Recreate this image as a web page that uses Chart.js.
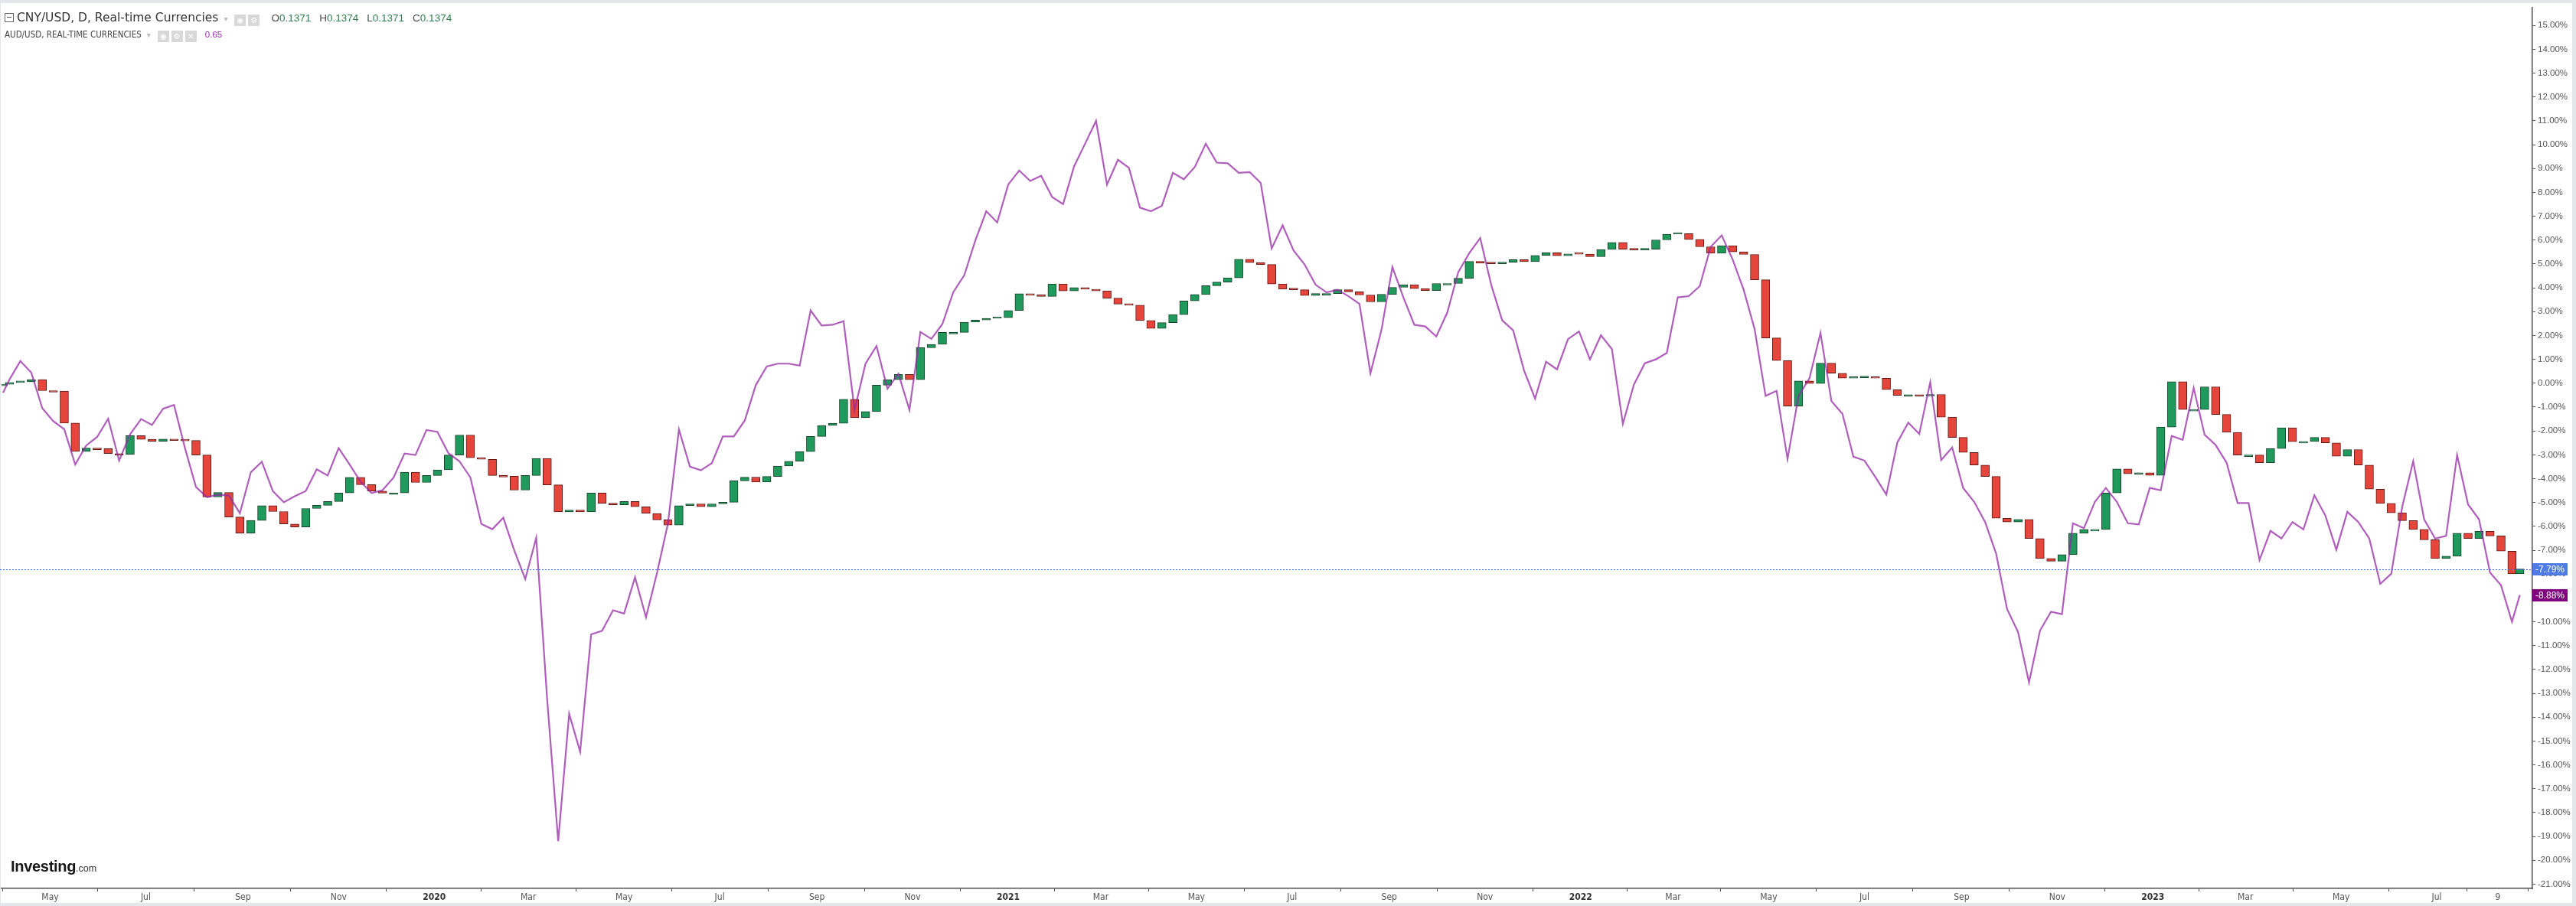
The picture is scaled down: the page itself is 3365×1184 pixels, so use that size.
<!DOCTYPE html>
<html>
<head>
<meta charset="utf-8">
<title>CNY/USD vs AUD/USD</title>
<script src="https://cdn.jsdelivr.net/npm/chart.js@4.4.0/dist/chart.umd.min.js"></script>
<style>
  html, body { margin: 0; padding: 0; background: #e4e6ea; }
  #frame { position: absolute; left: 1px; top: 4px; width: 3359px; height: 1176px; background: #fff; }
  #wrap { position: absolute; left: 0; top: 0; width: 3365px; height: 1184px; }
  .hdr { position: absolute; white-space: nowrap; z-index: 5; }
  #line1 { left: 6px; top: 13px; height: 20px; line-height: 20px; }
  #line2 { left: 6px; top: 37px; height: 14px; line-height: 14px; }
  .collapse { display: inline-block; width: 10px; height: 10px; border: 1px solid #666; position: relative; vertical-align: -1px; margin-right: 4px; }
  .collapse:after { content: ''; position: absolute; left: 2px; right: 2px; top: 4px; height: 1px; background: #555; }
  .title { font: 15.5px 'DejaVu Sans', sans-serif; color: #333; }
  .caret { font: 10px 'DejaVu Sans', sans-serif; color: #bbb; margin: 0 9px 0 7px; }
  .ico { display: inline-block; width: 15px; height: 15px; background: #d8d8d8; color: #fff; font: 10px/15px 'DejaVu Sans', sans-serif; text-align: center; margin-right: 3px; vertical-align: -2px; }
  .ohlc { font: 13.5px 'Liberation Sans', Arial, sans-serif; color: #4a4a4a; margin-left: 12px; }
  .ohlc b { font-weight: normal; color: #2e7d4f; margin-right: 11px; }
  .sub { font: 11.5px 'Liberation Sans Narrow', 'DejaVu Sans Condensed', 'Liberation Sans', sans-serif; color: #444; }
  .subval { font: 11.5px 'Liberation Sans', Arial, sans-serif; color: #9c27b0; margin-left: 8px; }
  #logo { position: absolute; left: 14px; top: 1121px; z-index: 5; white-space: nowrap; }
  #logo .brand { font: bold 20px 'Liberation Sans', Arial, sans-serif; color: #161616; letter-spacing: -0.3px; }
  #logo .dom { font: 12.5px 'Liberation Sans', Arial, sans-serif; color: #333; }
</style>
</head>
<body>
<div id="frame"></div>
<div id="wrap"><canvas id="chart" width="3365" height="1184"></canvas></div>
<div class="hdr" id="line1"></div>
<div class="hdr" id="line2"></div>
<div id="logo"><span class="brand">Investing</span><span class="dom">.com</span></div>

<script>
// weekly closes, % change from first bar
const weekDates = [
  '2019-04-01','2019-04-05','2019-04-12','2019-04-19','2019-04-26','2019-05-03','2019-05-10','2019-05-17','2019-05-24','2019-05-31',
  '2019-06-07','2019-06-14','2019-06-21','2019-06-28','2019-07-05','2019-07-12','2019-07-19','2019-07-26','2019-08-02','2019-08-09',
  '2019-08-16','2019-08-23','2019-08-30','2019-09-06','2019-09-13','2019-09-20','2019-09-27','2019-10-04','2019-10-11','2019-10-18',
  '2019-10-25','2019-11-01','2019-11-08','2019-11-15','2019-11-22','2019-11-29','2019-12-06','2019-12-13','2019-12-20','2019-12-27',
  '2020-01-03','2020-01-10','2020-01-17','2020-01-24','2020-01-31','2020-02-07','2020-02-14','2020-02-21','2020-02-28','2020-03-06',
  '2020-03-13','2020-03-20','2020-03-27','2020-04-03','2020-04-10','2020-04-17','2020-04-24','2020-05-01','2020-05-08','2020-05-15',
  '2020-05-22','2020-05-29','2020-06-05','2020-06-12','2020-06-19','2020-06-26','2020-07-03','2020-07-10','2020-07-17','2020-07-24',
  '2020-07-31','2020-08-07','2020-08-14','2020-08-21','2020-08-28','2020-09-04','2020-09-11','2020-09-18','2020-09-25','2020-10-02',
  '2020-10-09','2020-10-16','2020-10-23','2020-10-30','2020-11-06','2020-11-13','2020-11-20','2020-11-27','2020-12-04','2020-12-11',
  '2020-12-18','2020-12-25','2021-01-01','2021-01-08','2021-01-15','2021-01-22','2021-01-29','2021-02-05','2021-02-12','2021-02-19',
  '2021-02-26','2021-03-05','2021-03-12','2021-03-19','2021-03-26','2021-04-02','2021-04-09','2021-04-16','2021-04-23','2021-04-30',
  '2021-05-07','2021-05-14','2021-05-21','2021-05-28','2021-06-04','2021-06-11','2021-06-18','2021-06-25','2021-07-02','2021-07-09',
  '2021-07-16','2021-07-23','2021-07-30','2021-08-06','2021-08-13','2021-08-20','2021-08-27','2021-09-03','2021-09-10','2021-09-17',
  '2021-09-24','2021-10-01','2021-10-08','2021-10-15','2021-10-22','2021-10-29','2021-11-05','2021-11-12','2021-11-19','2021-11-26',
  '2021-12-03','2021-12-10','2021-12-17','2021-12-24','2021-12-31','2022-01-07','2022-01-14','2022-01-21','2022-01-28','2022-02-04',
  '2022-02-11','2022-02-18','2022-02-25','2022-03-04','2022-03-11','2022-03-18','2022-03-25','2022-04-01','2022-04-08','2022-04-15',
  '2022-04-22','2022-04-29','2022-05-06','2022-05-13','2022-05-20','2022-05-27','2022-06-03','2022-06-10','2022-06-17','2022-06-24',
  '2022-07-01','2022-07-08','2022-07-15','2022-07-22','2022-07-29','2022-08-05','2022-08-12','2022-08-19','2022-08-26','2022-09-02',
  '2022-09-09','2022-09-16','2022-09-23','2022-09-30','2022-10-07','2022-10-14','2022-10-21','2022-10-28','2022-11-04','2022-11-11',
  '2022-11-18','2022-11-25','2022-12-02','2022-12-09','2022-12-16','2022-12-23','2022-12-30','2023-01-06','2023-01-13','2023-01-20',
  '2023-01-27','2023-02-03','2023-02-10','2023-02-17','2023-02-24','2023-03-03','2023-03-10','2023-03-17','2023-03-24','2023-03-31',
  '2023-04-07','2023-04-14','2023-04-21','2023-04-28','2023-05-05','2023-05-12','2023-05-19','2023-05-26','2023-06-02','2023-06-09',
  '2023-06-16','2023-06-23','2023-06-30','2023-07-07','2023-07-14','2023-07-21','2023-07-28','2023-08-04','2023-08-11','2023-08-18',
  '2023-08-23'
];

const cnyClose = [
  -0.04, 0.03, 0.06, 0.15, -0.31, -0.33, -1.67, -2.86, -2.72, -2.74,
  -2.95, -2.98, -2.20, -2.35, -2.43, -2.34, -2.35, -2.40, -3.01, -4.77,
  -4.58, -5.61, -6.28, -5.75, -5.13, -5.38, -5.90, -6.03, -5.25, -5.12,
  -4.96, -4.60, -3.95, -4.25, -4.52, -4.61, -4.60, -3.73, -4.16, -3.87,
  -3.63, -3.01, -2.17, -3.12, -3.19, -3.87, -3.90, -4.48, -3.87, -3.15,
  -4.26, -5.39, -5.32, -5.39, -4.60, -5.03, -5.10, -4.96, -5.18, -5.46,
  -5.73, -5.95, -5.13, -5.06, -5.18, -5.06, -4.99, -4.09, -3.94, -4.14,
  -3.91, -3.47, -3.27, -2.87, -2.23, -1.77, -1.68, -0.67, -1.45, -1.19,
  -0.08, 0.15, 0.37, 0.15, 1.49, 1.63, 2.13, 2.13, 2.56, 2.65,
  2.72, 2.75, 3.05, 3.75, 3.69, 3.64, 4.16, 3.87, 4.01, 3.94,
  3.87, 3.57, 3.32, 3.27, 2.63, 2.30, 2.54, 2.88, 3.45, 3.72,
  4.09, 4.24, 4.42, 5.20, 5.06, 4.98, 4.16, 3.94, 3.92, 3.68,
  3.76, 3.76, 3.92, 3.83, 3.70, 3.41, 3.73, 4.02, 4.13, 3.97,
  3.89, 4.18, 4.18, 4.40, 5.11, 5.03, 5.01, 5.07, 5.18, 5.10,
  5.36, 5.47, 5.35, 5.42, 5.41, 5.31, 5.61, 5.90, 5.61, 5.59,
  5.62, 6.01, 6.25, 6.27, 6.03, 5.72, 5.45, 5.77, 5.51, 5.40,
  4.34, 1.90, 0.95, -0.96, 0.10, -0.01, 0.84, 0.42, 0.21, 0.23,
  0.26, 0.21, -0.27, -0.51, -0.48, -0.53, -0.47, -1.42, -2.27, -2.90,
  -3.43, -3.91, -5.66, -5.82, -5.71, -6.51, -7.35, -7.46, -7.19, -6.29,
  -6.13, -6.13, -4.60, -3.59, -3.80, -3.75, -3.86, -1.84, 0.06, -1.10,
  -1.10, -0.15, -1.31, -2.06, -3.01, -3.01, -3.33, -2.74, -1.87, -2.45,
  -2.44, -2.27, -2.50, -3.06, -2.78, -3.43, -4.44, -5.04, -5.43, -5.76,
  -6.13, -6.56, -7.35, -7.25, -6.29, -6.51, -6.21, -6.40, -7.04, -7.99,
  -7.79
];

const audChange = [
  -0.40, 0.15, 0.93, 0.44, -1.05, -1.59, -1.93, -3.41, -2.61, -2.25,
  -1.49, -3.24, -2.14, -1.50, -1.75, -1.07, -0.91, -2.72, -4.35, -4.78,
  -4.67, -4.71, -5.45, -3.73, -3.29, -4.52, -4.99, -4.74, -4.52, -3.61,
  -3.87, -2.72, -3.41, -4.13, -4.60, -4.48, -3.96, -2.95, -3.01, -1.96,
  -2.04, -2.93, -3.27, -3.95, -5.90, -6.12, -5.64, -7.01, -8.21, -6.48,
  -13.28, -19.20, -13.86, -15.45, -10.53, -10.38, -9.52, -9.66, -8.14, -9.81,
  -7.96, -5.88, -1.94, -3.50, -3.65, -3.35, -2.23, -2.23, -1.56, -0.08,
  0.70, 0.82, 0.82, 0.74, 3.05, 2.42, 2.45, 2.60, -1.12, 0.82,
  1.56, -0.23, 0.40, -1.12, 2.15, 1.86, 2.48, 3.82, 4.53, 5.98,
  7.21, 6.74, 8.33, 8.92, 8.48, 8.70, 7.81, 7.51, 9.09, 10.04,
  11.00, 8.33, 9.37, 9.03, 7.36, 7.21, 7.44, 8.82, 8.55, 9.07,
  10.04, 9.25, 9.22, 8.82, 8.85, 8.40, 5.65, 6.62, 5.56, 4.98,
  4.13, 3.81, 3.92, 3.65, 3.33, 0.42, 2.22, 4.87, 3.60, 2.45,
  2.38, 1.96, 2.96, 4.66, 5.45, 6.09, 4.13, 2.64, 2.22, 0.53,
  -0.64, 0.90, 0.58, 1.85, 2.17, 1.00, 2.01, 1.43, -1.70, -0.06,
  0.84, 1.00, 1.27, 3.60, 3.65, 4.07, 5.72, 6.20, 5.19, 3.92,
  2.27, -0.53, -0.32, -3.18, -0.53, 0.21, 2.11, -0.75, -1.28, -3.08,
  -3.24, -3.93, -4.67, -2.49, -1.65, -2.12, 0.04, -3.22, -2.69, -4.39,
  -4.97, -5.82, -7.14, -9.47, -10.43, -12.54, -10.37, -9.58, -9.68, -5.87,
  -6.08, -4.97, -4.39, -4.97, -5.87, -5.92, -4.39, -4.49, -2.21, -2.37,
  -0.20, -2.16, -2.59, -3.33, -5.02, -5.02, -7.41, -6.19, -6.51, -5.82,
  -6.13, -4.70, -5.55, -6.98, -5.39, -5.82, -6.51, -8.41, -7.99, -5.18,
  -3.27, -5.71, -6.51, -6.40, -3.01, -5.08, -5.71, -7.94, -8.47, -10.00,
  -8.88
];

const tickDates = [
  '2019-05-01','2019-07-01','2019-09-01','2019-11-01','2020-01-01','2020-03-01','2020-05-01','2020-07-01','2020-09-01',
  '2020-11-01','2021-01-01','2021-03-01','2021-05-01','2021-07-01','2021-09-01','2021-11-01','2022-01-01','2022-03-01',
  '2022-05-01','2022-07-01','2022-09-01','2022-11-01','2023-01-01','2023-03-01','2023-05-01','2023-07-01','2023-08-09'
];
const tickLabels = [
  'May','Jul','Sep','Nov','2020','Mar','May','Jul','Sep',
  'Nov','2021','Mar','May','Jul','Sep','Nov','2022','Mar',
  'May','Jul','Sep','Nov','2023','Mar','May','Jul','9'
];

const ohlc = ['0.1371', '0.1374', '0.1371', '0.1374'];
const audLast = '0.65';

// header text
document.getElementById('line1').innerHTML =
  '<span class="collapse"></span><span class="title">CNY/USD, D, Real-time Currencies</span>' +
  '<span class="caret">\u25BE</span><span class="ico">\u25C9</span><span class="ico">\u2699</span>' +
  '<span class="ohlc">O<b>' + ohlc[0] + '</b>H<b>' + ohlc[1] + '</b>L<b>' + ohlc[2] + '</b>C<b>' + ohlc[3] + '</b></span>';
document.getElementById('line2').innerHTML =
  '<span class="sub">AUD/USD, REAL-TIME CURRENCIES</span><span class="caret">\u25BE</span>' +
  '<span class="ico">\u25C9</span><span class="ico">\u2699</span><span class="ico">\u2715</span>' +
  '<span class="subval">' + audLast + '</span>';

const toT = d => Date.parse(d);
const candleOpen = cnyClose.map((c, i) => i === 0 ? c : cnyClose[i - 1]);
const candles = weekDates.map((d, i) => ({ x: toT(d), y: [candleOpen[i], cnyClose[i]] }));
const audLine = weekDates.map((d, i) => ({ x: toT(d), y: audChange[i] }));
const candleFill = cnyClose.map((c, i) => c >= candleOpen[i] ? '#1f9a5c' : '#e5453b');
const candleEdge = cnyClose.map((c, i) => c >= candleOpen[i] ? '#18402a' : '#5a1b17');

const axisFont = "'Liberation Sans', Arial, sans-serif";
const narrowFont = "'Liberation Sans Narrow', 'DejaVu Sans Condensed', 'Liberation Sans', sans-serif";

// last price line + axis labels
const lastMarks = {
  id: 'lastMarks',
  afterDatasetsDraw(chart) {
    const { ctx, chartArea, scales } = chart;
    const yy = Math.round(scales.y.getPixelForValue(cnyClose[cnyClose.length - 1])) + 0.5;
    ctx.save();
    ctx.strokeStyle = '#3d6be0';
    ctx.lineWidth = 1;
    ctx.setLineDash([2, 2]);
    ctx.beginPath();
    ctx.moveTo(0, yy);
    ctx.lineTo(chartArea.right, yy);
    ctx.stroke();
    ctx.restore();
  },
  afterDraw(chart) {
    const { ctx, chartArea, scales } = chart;
    const tags = [
      { v: cnyClose[cnyClose.length - 1], bg: '#4f7be6' },
      { v: audChange[audChange.length - 1], bg: '#800080' }
    ];
    ctx.save();
    tags.forEach(t => {
      const yy = Math.round(scales.y.getPixelForValue(t.v));
      ctx.fillStyle = t.bg;
      ctx.fillRect(chartArea.right, yy - 8, 46, 16);
      ctx.fillStyle = '#fff';
      ctx.font = '12px ' + axisFont;
      ctx.textBaseline = 'middle';
      ctx.textAlign = 'left';
      ctx.fillText(t.v.toFixed(2) + '%', chartArea.right + 4, yy + 1);
    });
    ctx.restore();
  }
};

new Chart(document.getElementById('chart').getContext('2d'), {
  type: 'bar',
  data: {
    datasets: [
      {
        type: 'line',
        label: 'AUD/USD',
        data: audLine,
        borderColor: 'rgba(150, 40, 165, 0.75)',
        borderWidth: 2.2,
        pointRadius: 0,
        tension: 0,
        order: 0
      },
      {
        type: 'bar',
        label: 'CNY/USD',
        data: candles,
        backgroundColor: candleFill,
        borderColor: candleEdge,
        borderWidth: 1,
        borderSkipped: false,
        barThickness: 11,
        minBarLength: 2,
        order: 1
      }
    ]
  },
  options: {
    responsive: false,
    maintainAspectRatio: false,
    animation: false,
    layout: { padding: { left: 2, top: 5, right: 0, bottom: 0 } },
    plugins: { legend: { display: false }, tooltip: { enabled: false } },
    scales: {
      x: {
        type: 'linear',
        offset: false,
        min: toT('2019-03-31'),
        max: toT('2023-08-31'),
        border: { color: '#4d4d4d', width: 1.5 },
        grid: { drawOnChartArea: false, drawTicks: true, tickLength: 4, color: '#4d4d4d' },
        afterBuildTicks: s => { s.ticks = tickDates.map(d => ({ value: toT(d) })); },
        afterFit: s => { s.height = 23; },
        ticks: {
          autoSkip: false,
          maxRotation: 0,
          padding: 1,
          color: ctx => /^\d{4}$/.test(tickLabels[ctx.index]) ? '#333' : '#555',
          font: ctx => ({ family: narrowFont, size: 12, weight: /^\d{4}$/.test(tickLabels[ctx.index]) ? 'bold' : 'normal' }),
          callback: (v, i) => tickLabels[i]
        }
      },
      y: {
        position: 'right',
        min: -21.18,
        max: 15.75,
        border: { color: '#4d4d4d', width: 1.5 },
        grid: { drawOnChartArea: false, drawTicks: true, tickLength: 4, color: '#4d4d4d' },
        afterBuildTicks: s => {
          const t = [];
          for (let v = -21; v <= 15; v++) t.push({ value: v });
          s.ticks = t;
        },
        afterFit: s => { s.width = 57; },
        ticks: {
          padding: 3,
          color: '#555',
          font: { family: axisFont, size: 11.5 },
          callback: v => v.toFixed(2) + '%'
        }
      }
    }
  },
  plugins: [lastMarks]
});
</script>
</body>
</html>
